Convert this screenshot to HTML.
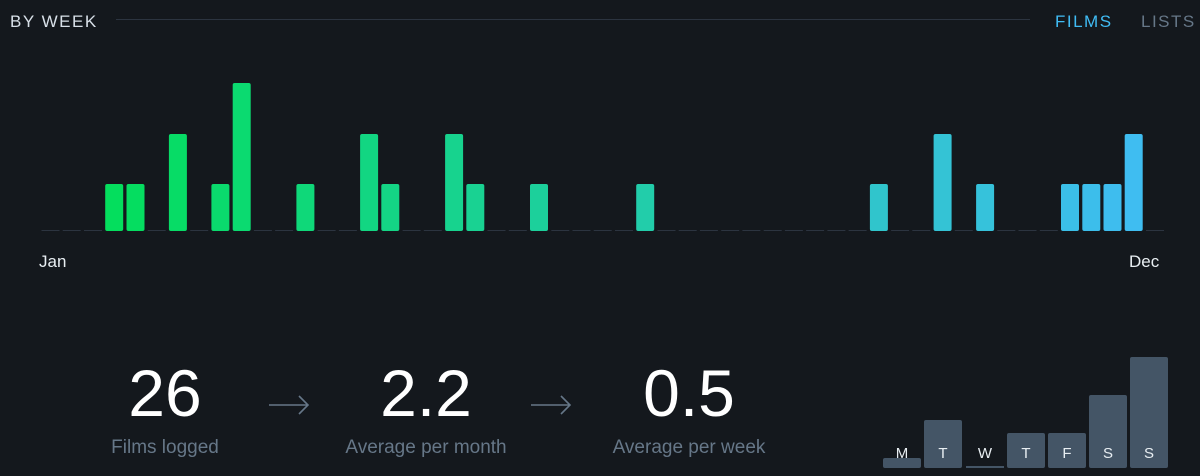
<!DOCTYPE html>
<html><head><meta charset="utf-8">
<style>
html,body{margin:0;padding:0;background:#14181d;}
body{width:1200px;height:476px;overflow:hidden;position:relative;font-family:"Liberation Sans",sans-serif;}
.t{position:absolute;white-space:nowrap;}
</style></head><body>
<div class="t" style="left:10px;top:12px;font-size:17px;letter-spacing:1.5px;color:#d8e0e8;">BY WEEK</div>
<div style="position:absolute;left:116px;top:19px;width:914px;height:1px;background:#2c3440;"></div>
<div class="t" style="left:1055px;top:12px;font-size:17px;letter-spacing:1.5px;color:#40bcf4;">FILMS</div>
<div class="t" style="left:1141px;top:12px;font-size:17px;letter-spacing:1.5px;color:#678;">LISTS</div>
<svg id="c" width="1200" height="476" style="position:absolute;left:0;top:0"></svg>
<svg width="1200" height="476" style="position:absolute;left:0;top:0">
<g stroke="#678" stroke-width="1.6" fill="none">
<path d="M269 405 H308 M299 396 L308 405 L299 414"/>
<path d="M531 405 H570 M561 396 L570 405 L561 414"/>
</g></svg>
<div class="t" style="left:39px;top:252px;font-size:17px;color:#e8eef2;">Jan</div>
<div class="t" style="left:1129px;top:252px;font-size:17px;color:#e8eef2;">Dec</div>

<div class="t" style="left:65px;width:200px;text-align:center;top:355px;font-size:66px;font-weight:300;color:#fff;">26</div>
<div class="t" style="left:65px;width:200px;text-align:center;top:437px;font-size:19px;color:#678;">Films logged</div>
<div class="t" style="left:326px;width:200px;text-align:center;top:355px;font-size:66px;font-weight:300;color:#fff;">2.2</div>
<div class="t" style="left:326px;width:200px;text-align:center;top:437px;font-size:19px;color:#678;">Average per month</div>
<div class="t" style="left:589px;width:200px;text-align:center;top:355px;font-size:66px;font-weight:300;color:#fff;">0.5</div>
<div class="t" style="left:589px;width:200px;text-align:center;top:437px;font-size:19px;color:#678;">Average per week</div>

<div style="position:absolute;left:883px;top:458px;width:38px;height:10px;background:#456;border-radius:2px"></div>
<div style="position:absolute;left:924px;top:420px;width:38px;height:48px;background:#456;border-radius:2px"></div>
<div style="position:absolute;left:966px;top:466px;width:38px;height:2px;background:#456;"></div>
<div style="position:absolute;left:1007px;top:433px;width:38px;height:35px;background:#456;border-radius:2px"></div>
<div style="position:absolute;left:1048px;top:433px;width:38px;height:35px;background:#456;border-radius:2px"></div>
<div style="position:absolute;left:1089px;top:395px;width:38px;height:73px;background:#456;border-radius:2px"></div>
<div style="position:absolute;left:1130px;top:357px;width:38px;height:111px;background:#456;border-radius:2px"></div>
<div class="t" style="left:883px;width:38px;text-align:center;top:445px;font-size:15px;color:#e8eef2;">M</div>
<div class="t" style="left:924px;width:38px;text-align:center;top:445px;font-size:15px;color:#e8eef2;">T</div>
<div class="t" style="left:966px;width:38px;text-align:center;top:445px;font-size:15px;color:#e8eef2;">W</div>
<div class="t" style="left:1007px;width:38px;text-align:center;top:445px;font-size:15px;color:#e8eef2;">T</div>
<div class="t" style="left:1048px;width:38px;text-align:center;top:445px;font-size:15px;color:#e8eef2;">F</div>
<div class="t" style="left:1089px;width:38px;text-align:center;top:445px;font-size:15px;color:#e8eef2;">S</div>
<div class="t" style="left:1130px;width:38px;text-align:center;top:445px;font-size:15px;color:#e8eef2;">S</div>
<script>
var d={3:1,4:1,6:2,8:1,9:3,12:1,15:2,16:1,19:2,20:1,23:1,28:1,39:1,42:2,44:1,48:1,49:1,50:1,51:2};
var s='',x0=41.5,p=21.24,base=231;
function col(t){var a=[0,224,84],b=[64,188,244];return 'rgb('+a.map(function(v,i){return Math.round(v+(b[i]-v)*t)}).join(',')+')';}
for(var i=0;i<53;i++){var x=x0+p*i;var v=d[i];
 if(v){var h=v===1?47:v===2?97:148;s+='<rect x="'+x.toFixed(1)+'" y="'+(base-h)+'" width="18" height="'+h+'" rx="2" fill="'+col(i/52)+'"/>';}
 else s+='<rect x="'+x.toFixed(1)+'" y="'+(base-1)+'" width="18" height="1" fill="#2c3440"/>';}
document.getElementById('c').innerHTML=s;
</script>
</body></html>
